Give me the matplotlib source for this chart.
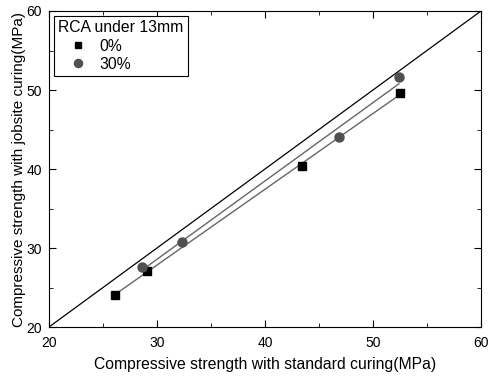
import matplotlib
matplotlib.use('Agg')
import matplotlib.pyplot as plt
import numpy as np

plt.rcParams['font.family'] = ['Liberation Sans', 'DejaVu Sans']

# RCA under 13mm
std_0 = [26.1, 29.1, 43.4, 52.5]
job_0 = [24.1, 27.1, 40.4, 49.6]
std_30 = [28.6, 32.3, 46.85, 52.4]
job_30 = [27.55, 30.75, 44.1, 51.7]

fig = plt.figure(figsize=(4.89, 3.78), dpi=100)
ax = fig.add_axes([0.1002, 0.1349, 0.8834, 0.836])

# y = x reference
ax.plot([20, 60], [20, 60], color='black', lw=0.9, zorder=1)

# linear fits
for xs, ys in ((std_0, job_0), (std_30, job_30)):
    k, b = np.polyfit(xs, ys, 1)
    xl = np.array([min(xs), max(xs)])
    ax.plot(xl, k*xl + b, color='#666666', lw=1.0, zorder=2)

ax.plot(std_0, job_0, 's', color='black', ms=5.5, ls='none', label='0%', zorder=3)
ax.plot(std_30, job_30, 'o', color='#505050', ms=6.5, ls='none', label='30%', zorder=3)

ax.set_xlim(20, 60)
ax.set_ylim(20, 60)
ax.set_xticks([20, 30, 40, 50, 60])
ax.set_yticks([20, 30, 40, 50, 60])
ax.set_xticks([25, 35, 45, 55], minor=True)
ax.set_yticks([25, 35, 45, 55], minor=True)
ax.tick_params(which='both', direction='in', top=True, right=True, labelsize=10)
ax.tick_params(which='major', length=5)
ax.tick_params(which='minor', length=3)
ax.tick_params(axis='x', pad=6.5)
ax.tick_params(axis='y', pad=5)

ax.set_xlabel('Compressive strength with standard curing(MPa)', fontsize=11.3, labelpad=5)
ax.set_ylabel('Compressive strength with jobsite curing(MPa)', fontsize=11, labelpad=0.5)

leg = ax.legend(title='RCA under 13mm', loc='upper left', fontsize=11.3, title_fontsize=11.3,
                fancybox=False, edgecolor='black', framealpha=1, handlelength=2.5,
                handletextpad=0.1, borderpad=0.3, labelspacing=0.2, borderaxespad=0.3,
                markerscale=0.9)
leg.get_frame().set_linewidth(0.8)
leg._legend_box.align = 'left'

fig.savefig('out.png', dpi=100)
